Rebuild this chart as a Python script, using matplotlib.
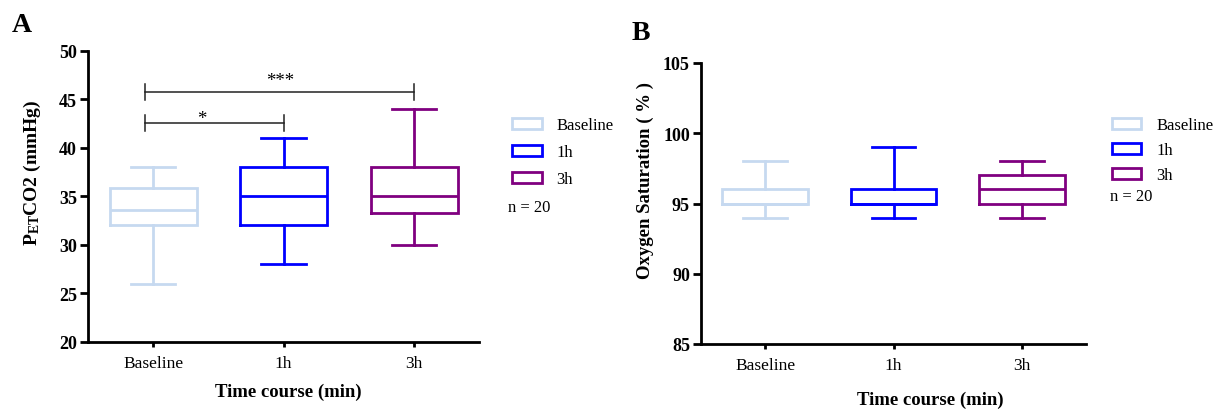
import matplotlib
matplotlib.use("Agg")
import matplotlib.pyplot as plt
from matplotlib.patches import Patch

plt.rcParams["font.family"] = "Liberation Serif"
plt.rcParams["mathtext.fontset"] = "custom"
plt.rcParams["mathtext.rm"] = "Liberation Serif"
plt.rcParams["mathtext.bf"] = "Liberation Serif:bold"
plt.rcParams["mathtext.it"] = "Liberation Serif:italic"

# ---- data -------------------------------------------------------------
groups = ["Baseline", "1h", "3h"]
colors = ["#C6D9F0", "#0000FF", "#800080"]

# End-tidal CO2 (mmHg): whisker ends, quartiles and median per time point
petco2_low = [26, 28, 30]
petco2_q1 = [32, 32, 33.3]
petco2_med = [33.6, 35, 35]
petco2_q3 = [35.8, 38, 38]
petco2_high = [38, 41, 44]

# Oxygen saturation (%)
spo2_low = [94, 94, 94]
spo2_q1 = [95, 95, 95]
spo2_med = [95, 95, 96]
spo2_q3 = [96, 96, 97]
spo2_high = [98, 99, 98]

# Significance brackets for panel A
sig_pairs = [(0, 1), (0, 2)]
sig_levels = [42.55, 45.7]
sig_labels = ["*", "***"]

n_label = "n = 20"

# ---- figure -----------------------------------------------------------
W, H = 1219, 410
fig = plt.figure(figsize=(W / 100, H / 100), dpi=100)


def px_axes(left, right, top, bottom):
    return fig.add_axes([left / W, 1 - bottom / H, (right - left) / W, (bottom - top) / H])


def make_stats(low, q1, med, q3, high):
    return [dict(whislo=a, q1=b, med=c, q3=d, whishi=e, label=g)
            for a, b, c, d, e, g in zip(low, q1, med, q3, high, groups)]


def draw_boxes(ax, stats):
    for i, (st, col) in enumerate(zip(stats, colors)):
        lp = dict(color=col, linewidth=2.0, solid_joinstyle="miter")
        ax.bxp([st], positions=[i], widths=0.667, capwidths=0.34,
               showfliers=False, boxprops=lp, whiskerprops=lp,
               capprops=lp, medianprops=lp, manage_ticks=False)


def style_axes(ax, ylim, yticks):
    ax.set_xlim(-0.5, 2.5)
    ax.set_ylim(*ylim)
    ax.set_yticks(yticks)
    ax.set_xticks(range(len(groups)))
    ax.set_xticklabels(groups, fontsize=12.5)
    for lab in ax.get_yticklabels():
        lab.set_fontweight("bold")
        lab.set_fontsize(13)
    for s in ("top", "right"):
        ax.spines[s].set_visible(False)
    for s in ("left", "bottom"):
        ax.spines[s].set_linewidth(2.0)
    ax.tick_params(axis="y", length=6, width=2, pad=2)
    ax.tick_params(axis="x", length=3.5, width=2, pad=6)


def add_legend(ax, x_px, y_px, spacing):
    handles = [Patch(facecolor="white", edgecolor=c, linewidth=2, label=g)
               for g, c in zip(groups, colors)]
    ax.legend(handles=handles, loc="upper left",
              bbox_to_anchor=(x_px / W, 1 - y_px / H), bbox_transform=fig.transFigure,
              frameon=False, fontsize=12, handlelength=1.76, handleheight=0.66,
              handletextpad=0.9, labelspacing=spacing, borderpad=0, borderaxespad=0)


# ---- panel A ----------------------------------------------------------
axA = px_axes(88, 479.3, 51.7, 342.7)
draw_boxes(axA, make_stats(petco2_low, petco2_q1, petco2_med, petco2_q3, petco2_high))
style_axes(axA, (20, 50), range(20, 51, 5))

star_offsets = [0, 5.6]   # points above the bracket
for (a, b), lvl, lab, off in zip(sig_pairs, sig_levels, sig_labels, star_offsets):
    x0, x1 = a - 0.06, b
    axA.plot([x0, x1], [lvl, lvl], color="#222222", lw=1.1)
    for xx in (x0, x1):
        axA.plot([xx, xx], [lvl - 0.8, lvl + 0.85], color="#222222", lw=1.1)
    axA.annotate(lab, xy=((x0 + x1) / 2 - (0.1 if lab == "*" else 0), lvl),
                 xytext=(0, off), textcoords="offset points",
                 ha="center", va="baseline", fontsize=13.5)

add_legend(axA, 512.3, 118.4, 0.65)
fig.text(508 / W, 1 - 208 / H, n_label, fontsize=12, va="center", ha="left")

fig.text(32 / W, 1 - 173 / H, r"$\mathbf{P}_{\mathbf{ET}}$CO2 (mmHg)",
         rotation=90, fontsize=14, fontweight="bold", ha="center", va="center")
fig.text(288 / W, 1 - 392 / H, "Time course (min)", fontsize=13.5,
         fontweight="bold", ha="center", va="center")
fig.text(22 / W, 1 - 26 / H, "A", fontsize=20, fontweight="bold",
         ha="center", va="center")

# ---- panel B ----------------------------------------------------------
axB = px_axes(701, 1086, 64, 345)
draw_boxes(axB, make_stats(spo2_low, spo2_q1, spo2_med, spo2_q3, spo2_high))
style_axes(axB, (85, 105), range(85, 106, 5))

add_legend(axB, 1112, 118.4, 0.53)
fig.text(1110 / W, 1 - 197 / H, n_label, fontsize=12, va="center", ha="left")

fig.text(645 / W, 1 - 181 / H, "Oxygen Saturation ( % )", rotation=90,
         fontsize=13.5, fontweight="bold", ha="center", va="center")
fig.text(930 / W, 1 - 400 / H, "Time course (min)", fontsize=13.5,
         fontweight="bold", ha="center", va="center")
fig.text(641 / W, 1 - 34 / H, "B", fontsize=20, fontweight="bold",
         ha="center", va="center")

fig.savefig("out.png", dpi=100, facecolor="white")
